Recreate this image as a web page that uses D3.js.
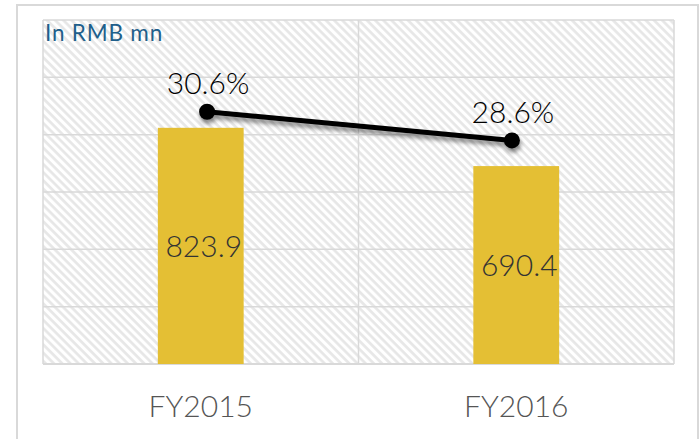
<!DOCTYPE html>
<html><head><meta charset="utf-8">
<script src="https://cdn.jsdelivr.net/npm/d3@7"></script>
<style>
html,body{margin:0;padding:0;background:#fff;}
svg{display:block;font-family:Lato, "Open Sans", sans-serif;}
</style></head>
<body>
<svg id="chart" width="699" height="439"></svg>
<script>
const categories = ["FY2015", "FY2016"];
const revenue = [823.9, 690.4];
const margin = [30.6, 28.6];
const marginLabels = ["30.6%", "28.6%"];
const gridTicks = [0, 200, 400, 600, 800, 1000, 1200];
const unitLabel = "In RMB mn";

const svg = d3.select("#chart");
const plot = {left: 43, top: 20, right: 674, bottom: 364};

// outer frame
svg.append("rect").attr("x", 17).attr("y", 5).attr("width", 681).attr("height", 450)
  .attr("fill", "#fff").attr("stroke", "#d9d9d9").attr("stroke-width", 2);

const defs = svg.append("defs");
const pat = defs.append("pattern").attr("id", "hatch").attr("patternUnits", "userSpaceOnUse")
  .attr("width", 5.8).attr("height", 5.8).attr("patternTransform", "rotate(-45)");
pat.append("rect").attr("width", 5.8).attr("height", 5.8).attr("fill", "#fff");
pat.append("line").attr("x1", 1.5).attr("y1", 0).attr("x2", 1.5).attr("y2", 5.8)
  .attr("stroke", "#e6e6e6").attr("stroke-width", 2.6);

const f = defs.append("filter").attr("id", "shadow").attr("x", "-20%").attr("y", "-50%").attr("width", "140%").attr("height", "200%");
f.append("feDropShadow").attr("dx", 1).attr("dy", 4).attr("stdDeviation", 2.2)
  .attr("flood-color", "#000").attr("flood-opacity", 0.45);

const x = d3.scaleBand().domain(categories).range([plot.left, plot.right]).paddingInner(0).paddingOuter(0);
const y = d3.scaleLinear().domain([0, 1200]).range([plot.bottom, plot.top]);
const y2 = d3.scaleLinear().domain([13, 37]).range([plot.bottom, plot.top]);
const xp = d3.scalePoint().domain(categories).range([plot.left + 1, plot.right + 1]).padding(0.535);

// plot background hatch
svg.append("rect").attr("x", plot.left).attr("y", plot.top)
  .attr("width", plot.right - plot.left).attr("height", plot.bottom - plot.top)
  .attr("fill", "url(#hatch)");

// horizontal grid
svg.append("g").selectAll("line").data(gridTicks).join("line")
  .attr("x1", plot.left).attr("x2", plot.right)
  .attr("y1", d => y(d)).attr("y2", d => y(d))
  .attr("stroke", "#d9d9d9").attr("stroke-width", d => d === 0 ? 2 : 1.5);

// vertical grid (category boundaries)
const vb = [plot.left, ...categories.map(c => x(c) + x.bandwidth())];
svg.append("g").selectAll("line").data(vb).join("line")
  .attr("x1", d => d).attr("x2", d => d)
  .attr("y1", plot.top).attr("y2", plot.bottom)
  .attr("stroke", "#d9d9d9").attr("stroke-width", 1.5);

// bars
const bw = x.bandwidth() * 0.272;
svg.append("g").selectAll("rect").data(categories).join("rect")
  .attr("x", d => x(d) + x.bandwidth() / 2 - bw / 2)
  .attr("width", bw)
  .attr("y", (d, i) => y(revenue[i]))
  .attr("height", (d, i) => y(0) - y(revenue[i]))
  .attr("fill", "#e4bf34");

// bar labels
svg.append("g").selectAll("text").data(categories).join("text")
  .attr("x", d => x(d) + x.bandwidth() / 2 + 3)
  .attr("y", (d, i) => (y(revenue[i]) + y(0)) / 2)
  .attr("dy", "0.36em")
  .attr("text-anchor", "middle")
  .attr("font-size", 30).attr("font-weight", 300).attr("fill", "#333")
  .text((d, i) => revenue[i].toFixed(1));

// x axis labels
const xAxis = d3.axisBottom(x).tickSize(0).tickPadding(0);
const gx = svg.append("g").attr("transform", `translate(0,${plot.bottom})`).call(xAxis);
gx.select(".domain").remove();
gx.selectAll("text").attr("font-family", "Lato, sans-serif").attr("font-weight", 300).attr("font-size", 30)
  .attr("fill", "#555").attr("dy", null).attr("y", 52.5);

// margin line
const line = d3.line().x((d, i) => xp(categories[i])).y(d => y2(d));
const lg = svg.append("g").attr("filter", "url(#shadow)");
lg.append("path").datum(margin).attr("d", line).attr("fill", "none")
  .attr("stroke", "#000").attr("stroke-width", 5);
lg.selectAll("circle").data(margin).join("circle")
  .attr("cx", (d, i) => xp(categories[i])).attr("cy", d => y2(d)).attr("r", 8)
  .attr("fill", "#000");

svg.append("g").selectAll("text").data(margin).join("text")
  .attr("x", (d, i) => xp(categories[i]) + 1)
  .attr("y", d => y2(d) - 17.4)
  .attr("text-anchor", "middle")
  .attr("font-size", 30).attr("font-weight", 300).attr("fill", "#000")
  .text((d, i) => marginLabels[i]);

// unit label
svg.append("text").attr("x", 45).attr("y", 40.7)
  .attr("font-size", 22.5).attr("font-weight", 400).attr("fill", "#1f5f8b").attr("letter-spacing", 0.8)
  .text(unitLabel);
</script>
</body></html>
